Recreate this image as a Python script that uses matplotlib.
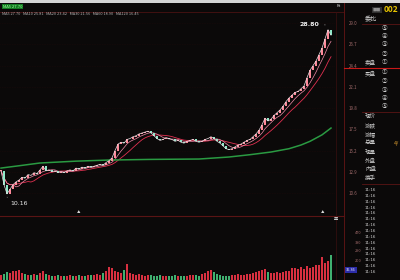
import matplotlib
matplotlib.use("Agg")
import matplotlib.pyplot as plt
import numpy as np
import pandas as pd
from matplotlib.patches import Rectangle
from matplotlib.lines import Line2D

plt.rcParams['font.family'] = ['Noto Sans CJK SC', 'DejaVu Sans']

# ---------------- data ----------------
closes = [13.0, 11.5, 10.5, 11.0, 11.5, 11.8, 12.0, 12.3, 12.2, 12.6,
          12.5, 12.8, 12.7, 13.1, 13.5, 13.0, 13.1, 12.9, 13.0, 12.8,
          12.9, 12.8, 13.0, 13.1, 13.0, 13.3, 13.2, 13.4, 13.3, 13.5,
          13.4, 13.5, 13.6, 13.7, 13.6, 13.9, 14.1, 14.4, 15.2, 15.9,
          16.1, 16.0, 16.4, 16.5, 16.7, 16.8, 17.0, 17.1, 17.2, 17.3,
          17.1, 16.8, 16.5, 16.3, 16.4, 16.6, 16.5, 16.4, 16.2, 16.3,
          16.1, 16.0, 16.2, 16.3, 16.4, 16.2, 16.1, 16.2, 16.4, 16.5,
          16.7, 16.5, 16.2, 16.0, 15.7, 15.4, 15.3, 15.4, 15.6, 15.8,
          15.9, 16.1, 16.3, 16.4, 16.7, 17.0, 17.4, 18.0, 18.7, 18.4,
          18.6, 19.0, 19.3, 19.6, 20.0, 20.5, 20.9, 21.2, 21.5, 21.6,
          21.9, 22.2, 23.1, 23.9, 24.4, 24.9, 25.6, 26.3, 27.3, 28.3,
          27.7]
volumes = [50, 60, 80, 70, 90, 90, 100, 70, 60, 55,
           50, 60, 55, 70, 90, 60, 50, 45, 40, 50,
           45, 40, 45, 50, 40, 45, 50, 40, 45, 50,
           55, 50, 60, 55, 70, 90, 130, 120, 90, 80,
           70, 100, 160, 70, 60, 55, 60, 50, 45, 55,
           50, 45, 40, 50, 45, 40, 45, 40, 50, 45,
           40, 45, 40, 50, 55, 50, 45, 60, 70, 90,
           100, 80, 60, 50, 45, 40, 45, 50, 55, 60,
           50, 55, 60, 65, 70, 80, 90, 100, 110, 80,
           75, 70, 80, 75, 85, 90, 95, 120, 120, 110,
           130, 110, 140, 120, 130, 150, 150, 230, 170, 190,
           250]
long_ma_idx = [0, 6, 13, 25, 36, 50, 66, 76, 83, 90, 96, 100, 103, 107, 110]
long_ma_val = [13.30, 13.55, 13.85, 14.05, 14.17, 14.24, 14.28, 14.50,
               14.75, 15.04, 15.40, 15.80, 16.20, 16.90, 17.64]
low_price = 10.16
high_price = 28.80
price_ticks = [10.6, 12.9, 15.2, 17.5, 19.8, 22.1, 24.4, 26.7, 29.0]
vol_ticks = [200, 290, 380, 470]
info_labels = ['现价', '涨跌', '涨幅', '总量', '现量', '外盘', '内盘', '换手']
circles = ['①', '②', '③', '④', '⑤']
time_rows = ['11:16'] * 15
ma_legend = 'MA5 27.70   MA10 25.81   MA20 23.42   MA30 21.56   MA60 18.90   MA120 16.45'

# ---------------- figure ----------------
W, H = 400, 280
BG = '#0b0909'
fig = plt.figure(figsize=(4, 2.8), dpi=100, facecolor=BG)

def fx(x):
    return x / W

def fy(y):
    return 1 - y / H

n = len(closes)
idx = np.arange(n)
c = np.array(closes)
o = np.r_[c[0], c[:-1]]
up = c >= o

# price axes
ax = fig.add_axes([0, fy(213), fx(335), (213 - 14) / H])
ax.set_facecolor('none')
ax.set_xlim(-1 / 3, 111.33)
ax.set_ylim(8.43, 30.0)
for s in ax.spines.values():
    s.set_visible(False)
for t in price_ticks:
    ax.axhline(t, color='#240b0b', lw=0.4, ls=(0, (1, 2)), zorder=0)

s = pd.Series(c)
ma5 = s.rolling(5, min_periods=1).mean()
ma10 = s.rolling(10, min_periods=1).mean()
ax.plot(idx, ma10, color='#e03050', lw=0.6, zorder=2)
ax.plot(idx, ma5, color='#f08aa8', lw=0.5, zorder=2)
ax.plot(long_ma_idx, long_ma_val, color='#2a9a42', lw=1.1, zorder=2)

# candles (open = previous close)
bot = np.minimum(o, c)
hgt = np.maximum(np.abs(c - o), 0.06)
ax.bar(idx[up], hgt[up], bottom=bot[up], width=0.6, color='#ff8a9a', lw=0, zorder=3)
ax.bar(idx[~up], hgt[~up], bottom=bot[~up], width=0.6, color='#8fe8c8', lw=0, zorder=3)
ax.plot(idx, c, color='#e8dde2', lw=0.5, zorder=4)

ax.yaxis.tick_right()
ax.set_yticks(price_ticks)
ax.set_yticklabels([f'{t:.1f}' for t in price_ticks])
ax.tick_params(axis='y', length=0, pad=10, labelsize=3.2, labelcolor='#a06a6a')
ax.set_xticks([])

imin = int(np.argmin(c))
imax = int(np.argmax(c))
ax.annotate(f'{low_price:.2f}', xy=(imin, low_price), xytext=(imin + 1, low_price - 0.75),
            color='#e8e8e8', fontsize=4.5, family=['DejaVu Sans'], va='center', ha='left',
            arrowprops=dict(arrowstyle='-', color='#e8e8e8', lw=0.4))
ax.annotate(f'{high_price:.2f}', xy=(imax, high_price), xytext=(imax - 3, high_price + 0.1),
            color='#f0f0f0', fontsize=4.5, family=['DejaVu Sans'], weight='bold',
            va='center', ha='right',
            arrowprops=dict(arrowstyle='-', color='#e8e8e8', lw=0.4))

# volume axes
axv = fig.add_axes([0, 0, fx(335), 62 / H])
axv.set_facecolor('none')
axv.set_xlim(-1 / 3, 111.33)
axv.set_ylim(0, 620)
for sp in axv.spines.values():
    sp.set_visible(False)
vol = np.array(volumes)
axv.bar(idx[up], vol[up], width=0.6, color='#d83040', lw=0)
axv.bar(idx[~up], vol[~up], width=0.6, color='#40b070', lw=0)
axv.set_xticks([])
axv.yaxis.tick_right()
axv.set_yticks(vol_ticks)
axv.set_yticklabels([str(v) for v in vol_ticks])
axv.tick_params(axis='y', length=0, pad=14, labelsize=2.8, labelcolor='#a06a6a')

# ---------------- frame decorations ----------------
def hline(y, x0, x1, color, lw):
    fig.add_artist(Line2D([fx(x0), fx(x1)], [fy(y), fy(y)], color=color, lw=lw))

def vline(x, y0, y1, color, lw):
    fig.add_artist(Line2D([fx(x), fx(x)], [fy(y0), fy(y1)], color=color, lw=lw))

fig.add_artist(Rectangle((0, fy(3)), 1, 3 / H, color='#d4d4d4', lw=0))
hline(12, 0, 344, '#4a1212', 0.6)
hline(215.5, 0, 344, '#5a1414', 0.8)
vline(336, 12, 280, '#3a1010', 0.5)
vline(344, 3, 280, '#5a1414', 0.7)
hline(24, 362, 400, '#5a1414', 0.6)
hline(68, 344, 400, '#c81818', 0.8)
hline(112, 362, 400, '#5a1414', 0.6)
hline(184, 362, 400, '#5a1414', 0.6)

# title + legend row
fig.text(fx(3), fy(6.5), 'MA5 27.70', fontsize=3, color='#a0ffa0', va='center', ha='left',
         bbox=dict(boxstyle='square,pad=0.2', fc='#137a20', ec='none'))
fig.text(fx(2), fy(14), ma_legend, fontsize=2.8, color='#b0b0b0', va='center', ha='left')
fig.text(fx(339), fy(6), 'Rt', fontsize=3, color='#d0d0d0', va='center', ha='center')

# markers on the separator
for xm in (79, 323):
    fig.text(fx(xm), fy(212.5), '▲', fontsize=2.5, color='#e0e0e0', va='center', ha='center')

# right info panel
fig.text(fx(377), fy(10), '■■', fontsize=3, color='#909090', va='center', ha='center',
         bbox=dict(boxstyle='square,pad=0.2', fc='#303030', ec='none'))
fig.text(fx(384), fy(10), '002', fontsize=6, color='#e8c400', va='center', ha='left',
         weight='bold')
fig.text(fx(365), fy(19.5), '委比', fontsize=4.5, color='#c8c8c8', va='center', ha='left')

sell_rows = [28, 37, 45, 54, 63]
buy_rows = [73, 81, 90, 98, 107]
for k, yy in enumerate(sell_rows):
    fig.text(fx(385), fy(yy), circles[4 - k], fontsize=4.0, color='#c8c8c8',
             va='center', ha='center')
for k, yy in enumerate(buy_rows):
    fig.text(fx(385), fy(yy), circles[k], fontsize=4.0, color='#c8c8c8',
             va='center', ha='center')
fig.text(fx(365), fy(63), '卖盘', fontsize=4.0, color='#d0d0d0', va='center', ha='left')
fig.text(fx(365), fy(73), '买盘', fontsize=4.0, color='#d0d0d0', va='center', ha='left')

info_rows = [116, 125, 134, 143, 152, 161, 169, 178]
for lab, yy in zip(info_labels, info_rows):
    fig.text(fx(365), fy(yy), lab, fontsize=4.0, color='#c8c8c8', va='center', ha='left')
fig.text(fx(394), fy(144), '4/', fontsize=4, color='#e0a030', va='center', ha='left')

for k, tlab in enumerate(time_rows):
    fig.text(fx(365), fy(190 + 5.85 * k), tlab, fontsize=2.9, color='#d0d0d0',
             va='center', ha='left', family=['DejaVu Sans'])

fig.text(fx(336), fy(219), '量', fontsize=3, color='#c0c0c0', va='center', ha='center')
fig.text(fx(351), fy(270), '36.36', fontsize=2.8, color='#ffffff', va='center', ha='center',
         bbox=dict(boxstyle='square,pad=0.25', fc='#2c2ca8', ec='none'))

fig.savefig('out.png', dpi=100, facecolor=BG)
